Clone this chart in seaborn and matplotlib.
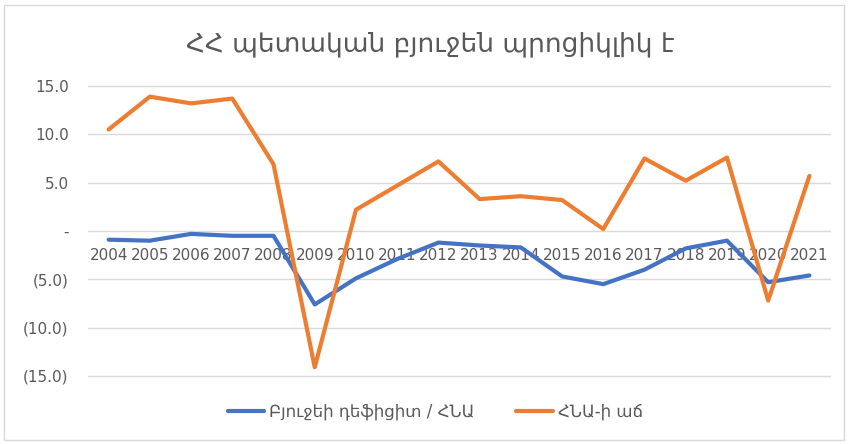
import numpy as np
import pandas as pd
import matplotlib
matplotlib.use("Agg")
import matplotlib.pyplot as plt
import matplotlib.ticker as mticker
from matplotlib.patches import Rectangle
import seaborn as sns

# data
years = list(range(2004, 2022))
deficit_gdp = [-0.9, -1.0, -0.3, -0.5, -0.5, -7.6, -4.9, -2.9, -1.2, -1.5, -1.7,
               -4.7, -5.5, -4.0, -1.8, -1.0, -5.3, -4.6]
gdp_growth = [10.5, 13.9, 13.2, 13.7, 6.9, -14.1, 2.2, 4.7, 7.2, 3.3, 3.6,
              3.2, 0.2, 7.5, 5.2, 7.6, -7.2, 5.7]
series_names = ["Բյուջեի դեֆիցիտ / ՀՆԱ", "ՀՆԱ-ի աճ"]
title = "ՀՀ պետական բյուջեն պրոցիկլիկ է"

df = pd.DataFrame({
    "year": years * 2,
    "value": deficit_gdp + gdp_growth,
    "series": [series_names[0]] * len(years) + [series_names[1]] * len(years),
})

sns.set_style("white")
plt.rcParams["font.family"] = ["DejaVu Sans"]
text_color = "#595959"

fig = plt.figure(figsize=(8.48, 4.44), dpi=100)
ax = fig.add_axes([0.1038, 0.1532, 0.875, 0.6531])

sns.lineplot(data=df, x="year", y="value", hue="series",
             palette=["#4472C4", "#ED7D31"], linewidth=3, ax=ax,
             legend=True)

ax.set_ylim(-15, 15)
ax.set_xlim(2003.5, 2021.5)
ax.set_yticks([15, 10, 5, 0, -5, -10, -15])


def acct(v, pos):
    if abs(v) < 1e-9:
        return "-"
    if v < 0:
        return f"({abs(v):.1f})"
    return f"{v:.1f}"


ax.yaxis.set_major_formatter(mticker.FuncFormatter(acct))
ax.set_xticks(years)
ax.set_xticklabels([str(y) for y in years])
ax.spines["bottom"].set_position(("data", 0))
for s in ax.spines.values():
    s.set_visible(False)
ax.grid(axis="y", color="#D9D9D9", linewidth=1)
for gl in ax.get_ygridlines():
    gl.set_clip_on(False)
ax.set_axisbelow(True)
ax.tick_params(axis="x", length=0, pad=12, labelsize=11, labelcolor=text_color)
ax.tick_params(axis="y", length=0, pad=14, labelsize=11, labelcolor=text_color)
ax.set_xlabel("")
ax.set_ylabel("")

ax.legend(loc="center", bbox_to_anchor=(0.468, -0.124), ncol=2,
          frameon=False, fontsize=12, handlelength=2.2, handletextpad=0.3,
          columnspacing=2.5, labelcolor=text_color)

fig.text(0.507, 0.9, title, ha="center", va="center", fontsize=19,
         color=text_color)

fig.patches.append(Rectangle((0.005, 0.01), 0.99, 0.978, transform=fig.transFigure,
                             fill=False, edgecolor="#D9D9D9", linewidth=1))

fig.savefig("out.png", dpi=100)
